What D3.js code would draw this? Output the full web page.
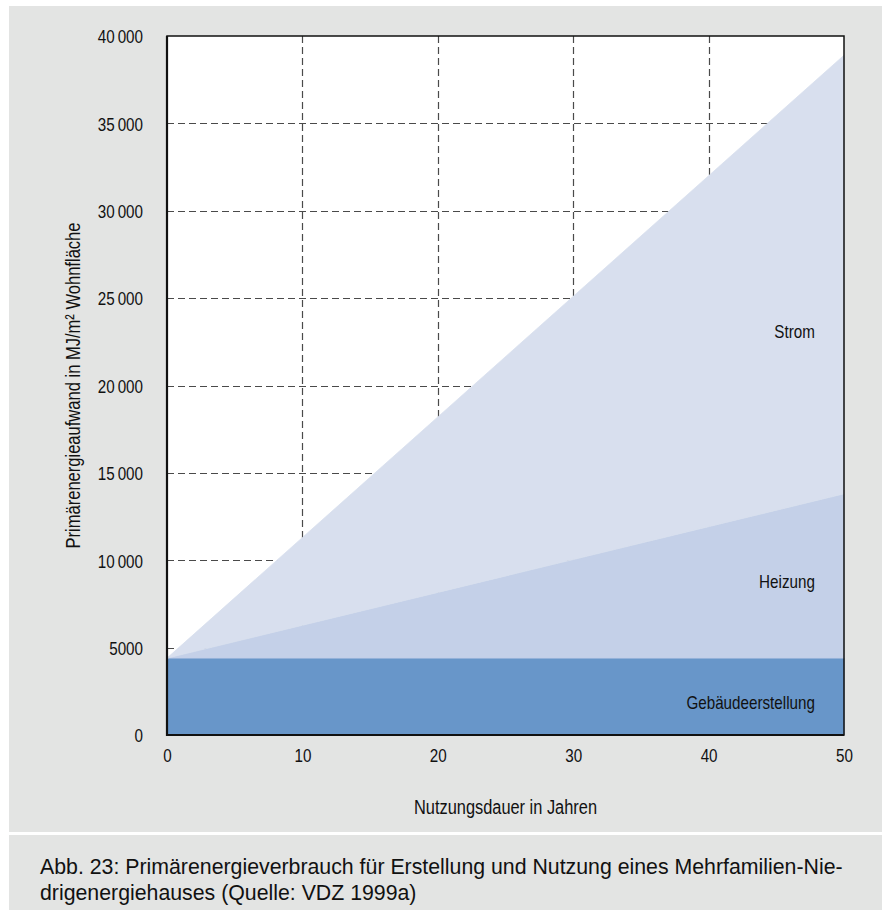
<!DOCTYPE html>
<html>
<head>
<meta charset="utf-8">
<script src="https://cdn.jsdelivr.net/npm/d3@7"></script>
<style>
  html, body { margin: 0; padding: 0; background: #ffffff; }
  svg { display: block; }
  .cond { font-family: "Liberation Sans", Arial, Helvetica, sans-serif; }
</style>
</head>
<body>
<svg id="chart" width="882" height="910"></svg>
<script>
// ---- data ----
const years = [0, 50];
const gebaeudeerstellung = [4400, 4400];   // MJ/m² (constant)
const heizung = [0, 9400];                 // cumulative increment above Gebäudeerstellung
const strom = [0, 25100];                  // cumulative increment above Heizung
const seriesNames = ["Gebäudeerstellung", "Heizung", "Strom"];
const seriesColors = ["#6896c9", "#c4d0e8", "#d8dfee"];
const xTicks = [0, 10, 20, 30, 40, 50];
const yTicks = [0, 5000, 10000, 15000, 20000, 25000, 30000, 35000, 40000];
const yTickLabels = ["0", "5000", "10\u2009000", "15\u2009000", "20\u2009000", "25\u2009000", "30\u2009000", "35\u2009000", "40\u2009000"];
const xTitle = "Nutzungsdauer in Jahren";
const yTitle = "Primärenergieaufwand in MJ/m² Wohnfläche";
const captionLines = [
  "Abb. 23: Primärenergieverbrauch für Erstellung und Nutzung eines Mehrfamilien-Nie-",
  "drigenergiehauses (Quelle: VDZ 1999a)"
];

// ---- layout ----
const svg = d3.select("#chart");
const W = 882, H = 910;
const plot = { left: 167, top: 36, right: 844, bottom: 735 };
const FS = 19;          // condensed label font size
const CONDENSE = 0.8;   // horizontal compression to imitate a condensed face

// backgrounds
svg.append("rect").attr("x", 9).attr("y", 6).attr("width", W - 9).attr("height", 832 - 6).attr("fill", "#e3e4e3");
svg.append("rect").attr("x", 9).attr("y", 835).attr("width", W - 9).attr("height", H - 835).attr("fill", "#e3e4e3");

const x = d3.scaleLinear().domain([0, 50]).range([plot.left, plot.right]);
const y = d3.scaleLinear().domain([0, 40000]).range([plot.bottom, plot.top]);

// plot background
svg.append("rect").attr("x", plot.left).attr("y", plot.top)
  .attr("width", plot.right - plot.left).attr("height", plot.bottom - plot.top).attr("fill", "#ffffff");

// grid
const grid = svg.append("g").attr("stroke", "#4a4a4a").attr("stroke-width", 1.2).attr("stroke-dasharray", "7,4");
grid.selectAll("line.h").data(yTicks.filter(v => v > 0 && v < 40000)).join("line")
  .attr("x1", plot.left).attr("x2", plot.right)
  .attr("y1", d => Math.round(y(d)) + 0.5).attr("y2", d => Math.round(y(d)) + 0.5);
grid.selectAll("line.v").data(xTicks.filter(v => v > 0 && v < 50)).join("line")
  .attr("y1", plot.top).attr("y2", plot.bottom)
  .attr("x1", d => Math.round(x(d)) + 0.5).attr("x2", d => Math.round(x(d)) + 0.5);

// stacked areas
const rows = years.map((yr, i) => ({ year: yr, "Gebäudeerstellung": gebaeudeerstellung[i], "Heizung": heizung[i], "Strom": strom[i] }));
const stacked = d3.stack().keys(seriesNames)(rows);
const area = d3.area().x(d => x(d.data.year)).y0(d => y(d[0])).y1(d => y(d[1]));
svg.append("g").selectAll("path").data(stacked).join("path")
  .attr("d", area).attr("fill", (d, i) => seriesColors[i])
  .attr("stroke", (d, i) => seriesColors[i]).attr("stroke-width", 0.8);

// frame
svg.append("rect").attr("x", plot.left).attr("y", plot.top)
  .attr("width", plot.right - plot.left).attr("height", plot.bottom - plot.top)
  .attr("fill", "none").attr("stroke", "#111").attr("stroke-width", 1.5);
svg.append("line").attr("x1", plot.left).attr("x2", plot.left).attr("y1", plot.top).attr("y2", plot.bottom + 1)
  .attr("stroke", "#111").attr("stroke-width", 2.2);
svg.append("line").attr("x1", plot.left - 1).attr("x2", plot.right).attr("y1", plot.bottom).attr("y2", plot.bottom)
  .attr("stroke", "#111").attr("stroke-width", 2);

// axes (labels only)
const yAxis = d3.axisLeft(y).tickValues(yTicks).tickSize(0).tickPadding(24)
  .tickFormat((d, i) => yTickLabels[i]);
const gy = svg.append("g").attr("transform", `translate(${plot.left},0)`).call(yAxis);
gy.select(".domain").remove();
gy.selectAll("text").attr("class", "cond").attr("font-size", FS).attr("fill", "#111").attr("dy", "0.36em");

const xAxis = d3.axisBottom(x).tickValues(xTicks).tickSize(0).tickPadding(14).tickFormat(d3.format("d"));
const gx = svg.append("g").attr("transform", `translate(0,${plot.bottom})`).call(xAxis);
gx.select(".domain").remove();
gx.selectAll("text").attr("class", "cond").attr("font-size", FS).attr("fill", "#111");

// series labels
const labelPos = [
  { name: "Gebäudeerstellung", yv: 1500 },
  { name: "Heizung", yv: 8400 },
  { name: "Strom", yv: 22700 }
];
svg.append("g").selectAll("text").data(labelPos).join("text")
  .attr("class", "cond")
  .attr("x", x(47.85)).attr("y", d => y(d.yv))
  .attr("text-anchor", "end").attr("font-size", FS).attr("fill", "#111")
  .text(d => d.name);

// condense all label texts horizontally
svg.selectAll("text.cond").each(function () {
  const len = this.getComputedTextLength();
  d3.select(this).attr("textLength", (len * CONDENSE).toFixed(2)).attr("lengthAdjust", "spacingAndGlyphs");
});

// axis titles (condensed to measured lengths)
svg.append("text").attr("class", "cond").attr("x", (plot.left + plot.right) / 2).attr("y", 814)
  .attr("text-anchor", "middle").attr("font-size", 20).attr("fill", "#111")
  .attr("textLength", 183).attr("lengthAdjust", "spacingAndGlyphs").text(xTitle);
svg.append("text").attr("class", "cond")
  .attr("transform", `translate(80,${(plot.top + plot.bottom) / 2}) rotate(-90)`)
  .attr("text-anchor", "middle").attr("font-size", 20).attr("fill", "#111")
  .attr("textLength", 326).attr("lengthAdjust", "spacingAndGlyphs").text(yTitle);

// caption
svg.append("g").selectAll("text").data(captionLines).join("text")
  .attr("x", 40).attr("y", (d, i) => 874 + i * 26)
  .attr("font-family", "'Liberation Sans', Arial, sans-serif").attr("font-size", 21.3).attr("fill", "#111")
  .text(d => d);
</script>
</body>
</html>
